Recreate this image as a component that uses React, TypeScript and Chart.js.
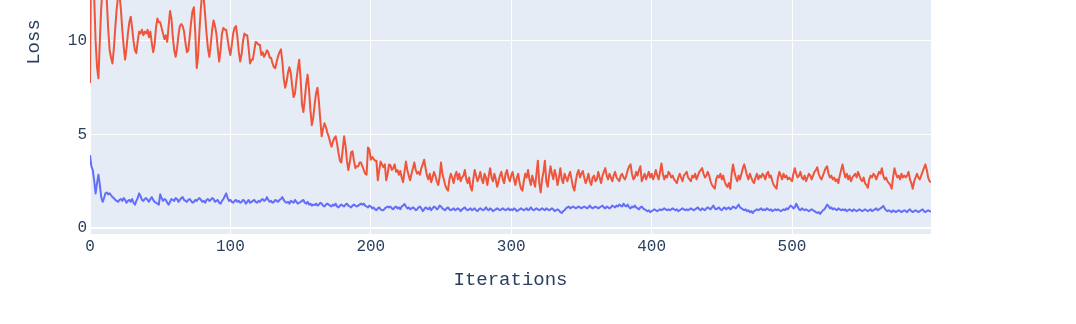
import React, { useEffect, useRef } from "react";
import { Chart, registerables } from "chart.js";

Chart.register(...registerables);

const xTicks = [0, 100, 200, 300, 400, 500];
const yTicks = [0, 5, 10, 15, 20];

const lossRed = [
  7.75, 16.5, 19.2, 12.3, 10.0, 8.6, 8.0, 10.0, 11.8, 12.8,
  14.0, 13.2, 12.1, 10.6, 9.5, 9.1, 8.8, 9.6, 10.7, 11.7,
  12.4, 12.5, 11.7, 10.6, 9.7, 9.0, 9.6, 10.4, 11.0, 11.3,
  10.7, 10.0, 9.5, 9.35, 10.0, 10.5, 10.4, 10.6, 10.3, 10.5,
  10.4, 10.6, 10.2, 10.5, 9.9, 9.4, 9.8, 10.7, 11.2, 11.0,
  11.0, 10.7, 10.4, 10.1, 10.3, 9.95, 10.8, 11.6, 11.2, 10.2,
  9.5, 9.15, 9.6, 10.3, 10.8, 10.9, 10.8, 10.5, 9.9, 9.4,
  9.5, 10.2, 11.0, 11.6, 11.8, 10.4, 8.55, 9.2, 10.6, 11.8,
  12.6, 12.3, 11.4, 10.4, 9.6, 9.15, 9.8, 10.6, 11.1, 10.8,
  10.4, 9.6, 8.9, 9.5, 10.4, 10.7, 10.6, 10.6, 10.1, 9.6,
  9.25, 9.8, 10.4, 10.7, 10.8, 10.2, 9.4, 8.9, 9.3, 10.0,
  10.4, 10.3, 10.3, 9.6, 8.8, 9.0, 9.0, 9.5, 9.95, 9.9,
  9.8, 9.8, 9.25, 9.4, 9.15, 9.3, 9.5, 9.4, 9.1, 9.1,
  8.8, 8.6, 8.55, 8.9, 9.2, 9.4, 9.55, 8.9, 8.0, 7.5,
  7.8, 8.3, 8.6, 8.3, 7.6, 7.0, 7.2, 7.9, 8.5, 9.0,
  8.0, 6.6, 6.2, 6.9, 7.7, 8.2, 7.4, 6.3, 5.5, 5.9,
  6.6, 7.2, 7.5, 6.8, 5.8, 4.9, 5.3, 5.6, 5.4, 5.1,
  4.9, 4.6, 4.35, 4.6, 4.8, 4.9, 4.5, 4.0, 3.6, 3.5,
  4.2, 4.9, 4.4, 3.6, 3.1, 3.5, 4.05, 4.1, 3.6, 3.2,
  3.3, 3.3, 3.5, 3.5, 3.3, 3.1, 2.9, 2.85, 4.3, 4.2,
  3.65, 3.8, 3.7, 3.6, 3.6, 2.55, 3.1, 3.55, 3.4, 3.25,
  3.4, 2.55, 2.9, 3.4, 3.35, 3.1, 3.2, 3.4, 3.0, 3.1,
  2.85, 3.05, 2.7, 2.45, 3.0, 3.55, 3.1, 2.8, 2.55, 2.9,
  3.2, 3.5, 3.1, 2.9, 3.0, 2.85, 3.2, 3.4, 3.65, 3.2,
  2.8, 2.6, 2.9, 2.45, 2.7, 3.0, 2.8, 2.5, 2.3, 2.7,
  3.5, 2.9, 2.6, 2.3, 2.1, 2.0, 2.6, 2.9, 2.7, 2.4,
  2.8, 3.0, 2.6, 2.9, 2.5, 2.7, 2.8, 3.1, 2.6, 2.4,
  2.7, 2.2, 2.0, 2.6, 3.1, 2.8, 2.5, 2.7, 3.0, 2.6,
  2.4, 2.9, 2.7, 2.3, 2.8, 3.2, 2.7, 2.5, 2.9, 2.6,
  2.2, 2.5, 2.8, 3.0, 2.6, 2.4, 2.9, 3.1, 2.7, 2.5,
  2.8, 3.0, 2.6, 2.3, 2.7, 2.9, 2.4, 2.1, 2.0, 2.5,
  2.9, 2.7, 3.1, 2.6, 2.3, 2.8, 2.5, 2.2, 2.9, 3.6,
  2.4, 1.9, 2.6, 3.0, 3.6, 2.5, 2.2, 2.8, 3.3, 2.9,
  2.6, 3.1, 2.8, 2.3, 2.7, 3.2, 2.6, 2.4, 2.9, 2.7,
  2.5, 2.8, 3.0, 2.6, 2.2, 2.0, 2.5, 2.9, 3.1, 2.7,
  2.9, 3.05, 2.7, 2.4, 2.6, 2.9, 2.5, 2.3, 2.7, 2.8,
  2.5, 2.6, 3.0, 2.7, 2.4, 2.8, 3.0, 3.2, 2.8, 2.6,
  2.9, 2.7, 2.5, 2.8, 3.0, 2.7, 2.6, 2.5, 2.8, 2.9,
  2.7, 2.6, 2.8, 3.1, 3.3, 3.4, 2.9, 2.6, 2.7, 3.0,
  2.8, 3.1, 3.3, 2.5, 2.7, 2.9, 2.6, 2.8, 3.0, 2.7,
  2.9, 2.6, 2.8, 3.1, 2.8, 2.6, 3.0, 3.45, 2.9, 2.6,
  2.8, 2.7, 3.0, 2.9, 2.7, 2.8, 2.6, 2.5, 2.4, 2.7,
  2.9, 2.7, 2.5, 2.8, 2.9, 3.0, 2.7, 2.6, 2.5, 2.8,
  2.7, 2.9, 2.6, 2.8, 3.0, 3.1, 3.2, 2.9, 2.7, 2.8,
  3.0, 2.8, 2.5, 2.3, 2.2, 2.1, 2.6, 2.8, 2.7, 2.9,
  2.6, 2.8, 2.5, 2.3, 2.2, 2.4, 2.1, 2.9, 3.4, 3.0,
  2.7, 2.5, 2.8, 2.6, 2.9, 3.2, 3.4, 3.1, 2.8, 2.6,
  2.9, 2.7, 2.5, 2.4, 2.7, 2.9, 2.6, 2.8, 2.7, 2.9,
  2.8, 2.6, 2.9, 3.0, 2.7, 2.8, 2.5, 2.3, 2.2, 2.1,
  2.7, 3.0, 2.8, 2.6, 2.9, 2.7, 2.8, 2.6, 2.7, 2.6,
  2.5, 2.9, 3.2, 2.9, 2.7, 2.8, 3.0, 2.7, 2.6, 2.8,
  2.5, 2.7, 2.9, 2.8, 2.6, 2.8, 3.0, 3.1, 3.25, 2.9,
  2.7, 2.6, 2.8, 3.0, 3.2, 3.3, 2.9, 2.7, 2.8, 2.6,
  2.7, 2.5, 2.6, 2.4, 2.8, 3.1, 3.4, 3.0, 2.7, 2.9,
  2.6, 2.8, 2.5, 2.7, 2.8, 2.9, 2.7, 3.0, 2.8, 2.6,
  2.5, 2.7, 2.4, 2.3, 2.15, 2.6, 2.8, 2.7, 2.9, 2.8,
  2.6, 2.8, 3.0, 2.9, 3.2, 2.8, 2.6, 2.7, 2.5, 2.4,
  2.3, 2.1, 2.7, 3.2, 2.9, 2.7, 2.8, 2.6, 2.9, 2.7,
  2.8, 2.7, 2.8, 3.0, 2.6, 2.4, 2.1, 2.5, 2.7, 2.9,
  2.7, 2.6, 2.8, 3.0, 3.2, 3.4, 3.1, 2.7, 2.5, 2.45,
];

const lossBlue = [
  3.9, 3.3, 3.1, 2.5, 1.85, 2.4, 2.85, 2.3, 1.65, 1.4,
  1.6, 1.85, 1.9, 1.8, 1.85, 1.75, 1.65, 1.6, 1.5, 1.45,
  1.4, 1.5, 1.55, 1.45, 1.6, 1.5, 1.35, 1.45, 1.5, 1.4,
  1.55, 1.35, 1.25, 1.45, 1.6, 1.85, 1.7, 1.5, 1.45, 1.55,
  1.6, 1.5, 1.4, 1.55, 1.65, 1.5, 1.4, 1.35, 1.3, 1.25,
  1.8, 1.6, 1.45, 1.55, 1.5, 1.35, 1.25, 1.4, 1.55, 1.5,
  1.45, 1.6, 1.55, 1.4, 1.5, 1.6, 1.65, 1.5, 1.45, 1.4,
  1.5, 1.55, 1.45, 1.35, 1.4, 1.5, 1.45, 1.55, 1.6, 1.5,
  1.4, 1.45, 1.35, 1.5, 1.55, 1.45, 1.5, 1.6, 1.55, 1.4,
  1.45, 1.5, 1.35, 1.3, 1.45, 1.55, 1.7, 1.85, 1.6, 1.45,
  1.5, 1.4, 1.35, 1.45, 1.5, 1.4, 1.45, 1.35, 1.4, 1.5,
  1.45, 1.3, 1.4, 1.5, 1.35, 1.4, 1.45, 1.5, 1.4, 1.35,
  1.45, 1.4, 1.5, 1.55, 1.45, 1.5, 1.65, 1.5, 1.4, 1.45,
  1.35, 1.4, 1.5, 1.45, 1.4, 1.5, 1.55, 1.65, 1.5, 1.4,
  1.35, 1.4, 1.3, 1.45, 1.4, 1.35, 1.5, 1.4, 1.3, 1.35,
  1.4, 1.45, 1.5, 1.35, 1.3, 1.4, 1.25, 1.3, 1.2, 1.25,
  1.23, 1.3, 1.2, 1.25, 1.35, 1.3, 1.2, 1.15, 1.25, 1.3,
  1.25, 1.2, 1.15, 1.25, 1.2, 1.3, 1.15, 1.1, 1.2, 1.25,
  1.2, 1.15, 1.25, 1.3, 1.2, 1.15, 1.1, 1.2, 1.25, 1.2,
  1.15, 1.2, 1.25, 1.3, 1.25, 1.3, 1.2, 1.15, 1.1, 1.2,
  1.15, 1.05, 1.1, 1.0, 0.95, 1.05, 1.1, 1.0, 0.95, 0.95,
  1.05, 1.1, 1.15, 1.1, 1.15, 1.05, 1.0, 1.1, 1.15, 1.05,
  1.1, 1.0, 1.15, 1.2, 1.28, 1.15, 1.05, 1.1, 1.0, 1.05,
  1.1, 1.05, 0.95, 1.0, 1.1, 1.15, 1.05, 0.9, 1.0, 1.1,
  1.05, 1.0, 1.1, 0.95, 1.05, 1.15, 1.1, 1.0, 1.05, 1.2,
  1.15, 1.05, 1.0, 0.95, 1.05, 1.1, 1.0, 0.95, 1.0, 1.05,
  0.95, 1.0, 1.05, 1.0, 0.9, 1.0, 1.05, 1.1, 1.0, 0.95,
  1.0, 1.05, 0.95, 1.0, 1.05, 0.95, 0.9, 1.0, 1.05, 1.0,
  0.95, 1.0, 1.1, 1.0, 0.95, 1.05, 1.0, 0.9, 0.95, 1.0,
  1.05, 1.0, 0.95, 1.0, 1.05, 1.0, 0.95, 1.0, 1.05, 0.95,
  1.0, 0.95, 1.05, 1.0, 0.9, 0.95, 1.0, 1.05, 1.0, 0.95,
  1.0, 1.05, 0.95, 1.0, 1.1, 1.0, 0.95, 1.0, 1.05, 1.0,
  0.95, 1.0, 1.05, 1.0, 0.95, 1.05, 1.0, 0.95, 1.0, 1.05,
  1.0, 0.9, 0.95, 1.0, 0.95, 0.85, 0.8, 0.9, 0.95, 1.05,
  1.1, 1.15, 1.05, 1.1, 1.15, 1.1, 1.05, 1.1, 1.15, 1.1,
  1.05, 1.1, 1.15, 1.1, 1.05, 1.1, 1.2, 1.1, 1.05, 1.1,
  1.15, 1.1, 1.05, 1.1, 1.15, 1.2, 1.1, 1.05, 1.15, 1.1,
  1.05, 1.1, 1.2, 1.15, 1.1, 1.2, 1.15, 1.25, 1.2, 1.15,
  1.3, 1.2, 1.15, 1.25, 1.1, 1.05, 1.15, 1.1, 1.2, 1.1,
  1.05, 1.0, 1.1, 1.15, 1.05, 1.0, 0.95, 0.9, 0.95, 0.85,
  0.9, 0.95, 1.0, 0.95, 0.9, 0.95, 1.0, 0.95, 1.0, 1.05,
  1.0, 0.95, 1.0, 0.95, 1.0, 1.05, 1.0, 0.95, 1.0, 0.9,
  0.95, 1.0, 1.05, 1.0, 0.95, 1.0, 0.95, 1.0, 1.05, 1.0,
  0.95, 1.0, 1.05, 1.1, 1.0, 0.95, 1.05, 1.0, 0.95, 1.05,
  1.1, 1.05, 1.0, 1.1, 1.2, 1.05, 1.0, 1.05, 1.1, 1.0,
  0.95, 1.05, 1.1, 1.0, 1.05, 1.1, 1.0, 1.05, 1.15, 1.1,
  1.05, 1.15, 1.25, 1.1, 1.05, 1.0, 0.95, 1.0, 0.9, 0.95,
  0.85, 0.9, 0.8, 0.9, 0.95, 1.0, 0.95, 1.0, 1.05, 0.95,
  1.0, 0.95, 1.05, 1.0, 0.95, 1.0, 0.9, 0.95, 1.0, 0.95,
  1.0, 0.95, 0.9, 0.95, 1.0, 0.95, 1.05, 1.0, 1.1, 1.2,
  1.15, 1.05, 1.1, 1.3, 1.15, 1.0, 0.95, 1.05, 1.0, 0.95,
  1.0, 0.95, 0.9, 0.95, 1.0, 0.95, 0.9, 0.85, 0.8, 0.85,
  0.75, 0.85, 0.95, 1.0, 1.1, 1.25, 1.18, 1.05, 1.1, 1.0,
  1.05, 1.0, 0.95, 1.05, 1.0, 0.95, 1.0, 0.95, 1.0, 0.9,
  0.95, 1.0, 0.95, 0.9, 1.0, 0.95, 0.9, 0.95, 1.0, 0.95,
  0.9, 0.95, 1.0, 0.95, 0.9, 0.95, 1.0, 0.9, 0.95, 1.0,
  1.05, 0.95, 1.0, 1.05, 1.1, 1.18, 1.05, 0.95, 0.9, 0.95,
  0.9, 0.85, 0.95, 0.9, 0.85, 0.9, 0.95, 0.9, 0.85, 0.9,
  0.95, 0.9, 0.85, 0.95, 1.0, 0.9, 0.85, 0.9, 0.95, 0.9,
  0.85, 0.9, 0.95, 1.0, 0.9, 0.85, 0.9, 0.95, 0.9, 0.87,
];

const FONT = "'Liberation Mono', monospace";
const TEXT = "#2a3f5f";

const plotBg = {
  id: "plotBg",
  beforeDraw(chart: any) {
    const { ctx, chartArea: a } = chart;
    ctx.save();
    ctx.fillStyle = "#E5ECF6";
    ctx.fillRect(a.left, a.top, a.right - a.left, a.bottom - a.top);
    ctx.restore();
  },
};

export default function App() {
  const ref = useRef<HTMLCanvasElement>(null);
  useEffect(() => {
    if (!ref.current) return;
    const toPts = (arr: number[]) => arr.map((v, i) => ({ x: i, y: v }));
    const chart = new Chart(ref.current, {
      type: "line",
      data: {
        datasets: [
          {
            data: toPts(lossBlue),
            borderColor: "#636efa",
            borderWidth: 2,
            pointRadius: 0,
            borderJoinStyle: "round",
            tension: 0,
          },
          {
            data: toPts(lossRed),
            borderColor: "#EF553B",
            borderWidth: 2,
            pointRadius: 0,
            borderJoinStyle: "round",
            tension: 0,
          },
        ],
      },
      options: {
        animation: false,
        responsive: false,
        layout: { padding: { left: 0, right: 145, top: 0, bottom: 0 } },
        plugins: { legend: { display: false }, tooltip: { enabled: false } },
        scales: {
          x: {
            type: "linear",
            min: 0,
            max: 599,
            afterBuildTicks: (s: any) => {
              s.ticks = xTicks.map((v) => ({ value: v }));
            },
            afterFit: (s: any) => {
              s.height = 90;
              s.paddingLeft = 0;
              s.paddingRight = 0;
            },
            grid: { color: "#ffffff", lineWidth: (c: any) => (c.tick && c.tick.value === 0 ? 2 : 1), drawTicks: false },
            border: { display: false },
            ticks: { color: TEXT, font: { family: FONT, size: 16 }, padding: 3, maxRotation: 0 },
            title: {
              display: true,
              text: "Iterations",
              color: TEXT,
              font: { family: FONT, size: 19 },
              padding: { top: 0, bottom: 32.6 },
            },
          },
          y: {
            type: "linear",
            min: -0.321,
            max: 20.21,
            afterBuildTicks: (s: any) => {
              s.ticks = yTicks.map((v) => ({ value: v }));
            },
            afterFit: (s: any) => {
              s.width = 90;
              s.paddingTop = 0;
              s.paddingBottom = 0;
            },
            grid: { color: "#ffffff", lineWidth: (c: any) => (c.tick && c.tick.value === 0 ? 2 : 1), drawTicks: false },
            border: { display: false },
            ticks: { color: TEXT, font: { family: FONT, size: 16 }, padding: 3 },
            title: {
              display: true,
              text: "Loss",
              color: TEXT,
              font: { family: FONT, size: 19 },
              padding: { top: 22.6, bottom: 0 },
            },
          },
        },
      },
      plugins: [plotBg],
    });
    return () => chart.destroy();
  }, []);

  return (
    <div style={{ position: "absolute", left: 0, top: 0, width: 1076, height: 324, overflow: "hidden", background: "#fff" }}>
      <canvas ref={ref} width={1076} height={474} style={{ position: "absolute", left: 0, top: -150, width: 1076, height: 474 }} />
    </div>
  );
}
